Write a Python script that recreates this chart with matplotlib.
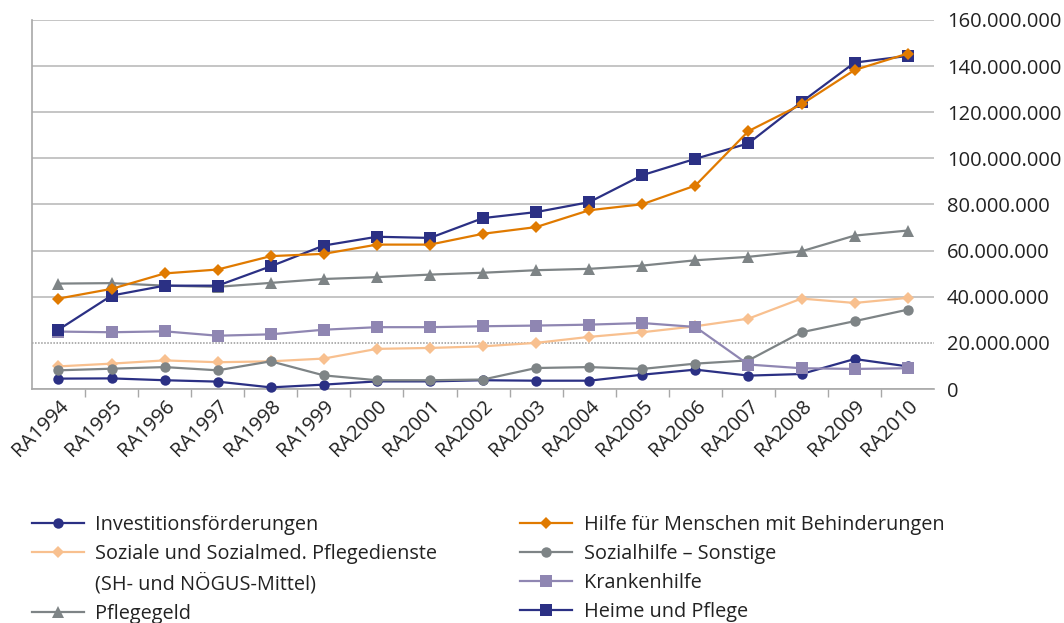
import matplotlib
matplotlib.use("Agg")
import matplotlib.pyplot as plt
from matplotlib.lines import Line2D
from matplotlib.ticker import FuncFormatter, FixedLocator

plt.rcParams['font.family'] = ['Open Sans', 'DejaVu Sans']

categories = ["RA1994", "RA1995", "RA1996", "RA1997", "RA1998", "RA1999", "RA2000",
              "RA2001", "RA2002", "RA2003", "RA2004", "RA2005", "RA2006", "RA2007",
              "RA2008", "RA2009", "RA2010"]

# values in million EUR
investitionsfoerderungen = [4.5, 4.6, 3.8, 3.2, 0.7, 1.9, 3.3, 3.3, 3.8, 3.6, 3.6, 6.2, 8.4, 5.8, 6.5, 13.0, 9.8]
soziale_pflegedienste = [9.8, 11.0, 12.4, 11.6, 12.0, 13.2, 17.4, 17.8, 18.5, 20.0, 22.6, 24.6, 27.2, 30.5, 39.2, 37.3, 39.5]
pflegegeld = [45.7, 45.9, 44.8, 44.3, 46.0, 47.7, 48.5, 49.6, 50.4, 51.5, 52.1, 53.5, 55.8, 57.3, 59.7, 66.5, 68.7]
sozialhilfe_sonstige = [8.1, 8.8, 9.5, 8.1, 12.0, 5.9, 3.8, 3.8, 4.1, 9.1, 9.5, 8.7, 11.0, 12.4, 24.6, 29.4, 34.4]
krankenhilfe = [24.9, 24.6, 25.0, 23.1, 23.7, 25.7, 26.8, 26.8, 27.2, 27.5, 27.9, 28.6, 26.9, 10.6, 9.0, 8.7, 9.0]
heime_pflege = [25.7, 40.5, 44.8, 44.8, 53.2, 62.2, 66.0, 65.5, 74.1, 76.7, 81.0, 92.7, 99.8, 106.5, 124.4, 141.5, 144.4]
hilfe_behinderung = [39.2, 43.4, 50.1, 51.8, 57.6, 58.6, 62.6, 62.6, 67.3, 70.2, 77.5, 80.1, 88.2, 111.8, 123.4, 138.3, 145.4]

yticks = [0, 20, 40, 60, 80, 100, 120, 140, 160]

NAVY = "#2B3084"
ORANGE = "#E07A00"
LORANGE = "#F8C08F"
GRAY = "#7E8486"
LPURPLE = "#8F86B2"

fig = plt.figure(figsize=(10.64, 6.23), dpi=100)
ax = fig.add_axes([0.030, 0.3756, 0.848, 0.5924])

x = list(range(len(categories)))
scale = 1e6

series = [
    ("Investitionsförderungen", investitionsfoerderungen, NAVY, "o", 7.5),
    ("Soziale und Sozialmed. Pflegedienste", soziale_pflegedienste, LORANGE, "D", 6.3),
    ("Pflegegeld", pflegegeld, GRAY, "^", 8.5),
    ("Sozialhilfe – Sonstige", sozialhilfe_sonstige, GRAY, "o", 7.5),
    ("Krankenhilfe", krankenhilfe, LPURPLE, "s", 8),
    ("Heime und Pflege", heime_pflege, NAVY, "s", 8),
    ("Hilfe für Menschen mit Behinderungen", hilfe_behinderung, ORANGE, "D", 6.3),
]

handles = {}
for i, (name, vals, col, mk, ms) in enumerate(series):
    h, = ax.plot(x, [v * scale for v in vals], color=col, marker=mk, markersize=ms,
                 linewidth=1.6, markeredgewidth=0, zorder=3 + i, clip_on=False)
    handles[name] = h

ax.set_xlim(-0.5, len(categories) - 0.5)
ax.set_ylim(0, 160 * scale)

ax.yaxis.tick_right()
ax.set_yticks([t * scale for t in yticks])
ax.yaxis.set_major_formatter(FuncFormatter(lambda v, p: f"{int(round(v)):,}".replace(",", ".")))
ax.tick_params(axis='y', length=0, pad=9, labelsize=14.5, labelcolor="#222222")

ax.set_xticks(x)
ax.set_xticklabels(categories, rotation=45, ha='right', va='top', rotation_mode='anchor')
ax.tick_params(axis='x', which='major', length=0, pad=5, labelsize=14.5, labelcolor="#222222")
ax.xaxis.set_minor_locator(FixedLocator([i + 0.5 for i in range(len(categories) - 1)]))
ax.tick_params(axis='x', which='minor', length=6, width=1, color="#A8A8A8")

ax.grid(axis='y', color="#B5B5B5", linewidth=1.1, zorder=0)
ax.set_axisbelow(True)
gl = ax.yaxis.get_gridlines()
gl[1].set_linestyle((0, (1, 1)))
gl[1].set_color("#999999")

for s in ['top', 'right']:
    ax.spines[s].set_visible(False)
for s in ['left', 'bottom']:
    ax.spines[s].set_color("#A8A8A8")
    ax.spines[s].set_linewidth(1.2)

blank = Line2D([], [], color='none', marker=None)
col1_h = [handles["Investitionsförderungen"], handles["Soziale und Sozialmed. Pflegedienste"],
          blank, handles["Pflegegeld"]]
col1_l = ["Investitionsförderungen", "Soziale und Sozialmed. Pflegedienste",
          "(SH- und NÖGUS-Mittel)", "Pflegegeld"]
col2 = ["Hilfe für Menschen mit Behinderungen", "Sozialhilfe – Sonstige", "Krankenhilfe", "Heime und Pflege"]

legkw = dict(frameon=False, fontsize=14.3, handlelength=2.6, handletextpad=0.6,
             labelspacing=0.46, borderaxespad=0, borderpad=0, labelcolor="#222222")
leg1 = fig.legend(col1_h, col1_l, loc='upper left', bbox_to_anchor=(0.030, 0.1734), **legkw)
leg2 = fig.legend([handles[n] for n in col2], col2, loc='upper left',
                  bbox_to_anchor=(0.489, 0.1734), **legkw)

fig.savefig("out.png", dpi=100)
